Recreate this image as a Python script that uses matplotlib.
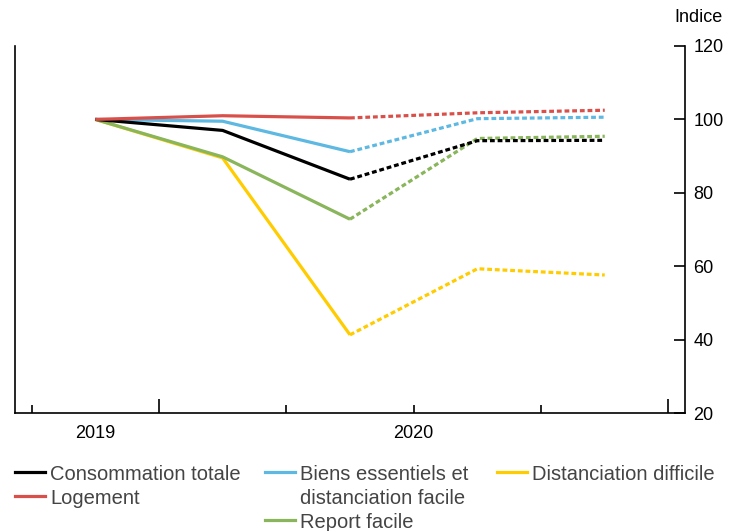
import matplotlib.pyplot as plt
from matplotlib.lines import Line2D

plt.rcParams['font.family'] = ['Liberation Sans', 'DejaVu Sans']

quarters = [0, 1, 2, 3, 4]
conso = [100, 97, 83.7, 94.2, 94.3]
biens = [100, 99.5, 91.2, 100.2, 100.6]
logement = [100, 101.0, 100.4, 101.8, 102.5]
distanc = [100, 89.5, 41.3, 59.3, 57.6]
report = [100, 89.8, 72.8, 94.8, 95.4]

series = {
    "conso": ("Consommation totale", conso, "#000000"),
    "logement": ("Logement", logement, "#d9504a"),
    "biens": ("Biens essentiels et\ndistanciation facile", biens, "#5db8e2"),
    "report": ("Report facile", report, "#89b55b"),
    "distanc": ("Distanciation difficile", distanc, "#ffcc00"),
}
draw_order = ["distanc", "report", "biens", "conso", "logement"]

fig = plt.figure(figsize=(7.3, 5.31), dpi=100)
ax = fig.add_axes([15 / 730, 1 - 413 / 531, 670 / 730, 367 / 531])

for key in draw_order:
    name, vals, col = series[key]
    ax.plot(quarters[:3], vals[:3], color=col, lw=2.3, solid_capstyle='butt')
    ax.plot(quarters[2:], vals[2:], color=col, lw=2.3, linestyle=(0, (1.5, 0.9)),
            dash_capstyle='butt')

ax.set_xlim(-0.63, 4.63)
ax.set_ylim(20, 120)

ax.spines['top'].set_visible(False)
ax.yaxis.tick_right()
ax.set_yticks([20, 40, 60, 80, 100, 120])
ax.tick_params(axis='y', direction='in', length=8, width=1.2, labelsize=13, pad=6)

ax.set_xticks([0.5, 4.5])
ax.set_xticks([-0.5, 1.5, 2.5, 3.5], minor=True)
ax.set_xticklabels([])
ax.tick_params(axis='x', which='major', direction='in', length=10, width=1.2)
ax.tick_params(axis='x', which='minor', direction='in', length=6, width=1.2)
for sp in ['left', 'right', 'bottom']:
    ax.spines[sp].set_linewidth(1.2)

ax.text(0, 14.5, "2019", ha='center', va='center', fontsize=13, clip_on=False)
ax.text(2.5, 14.5, "2020", ha='center', va='center', fontsize=13, clip_on=False)
fig.text(698 / 730, 1 - 18 / 531, "Indice", ha='center', va='center', fontsize=13)

# legend drawn by hand so the two-line label keeps its line on the first row
legend_slots = [
    ("conso", 15, 472),
    ("logement", 15, 496),
    ("biens", 265, 472),
    ("report", 265, 520),
    ("distanc", 497, 472),
]
for key, x0, y0 in legend_slots:
    name, _, col = series[key]
    yf = 1 - y0 / 531
    fig.add_artist(Line2D([x0 / 730, (x0 + 30) / 730], [yf, yf], color=col, lw=2.3,
                          transform=fig.transFigure))
    for k, part in enumerate(name.split('\n')):
        fig.text((x0 + 35) / 730, 1 - (y0 + 24 * k) / 531, part, ha='left',
                 va='center_baseline', fontsize=14.5, color='#444444')

fig.savefig("out.png", dpi=100)
